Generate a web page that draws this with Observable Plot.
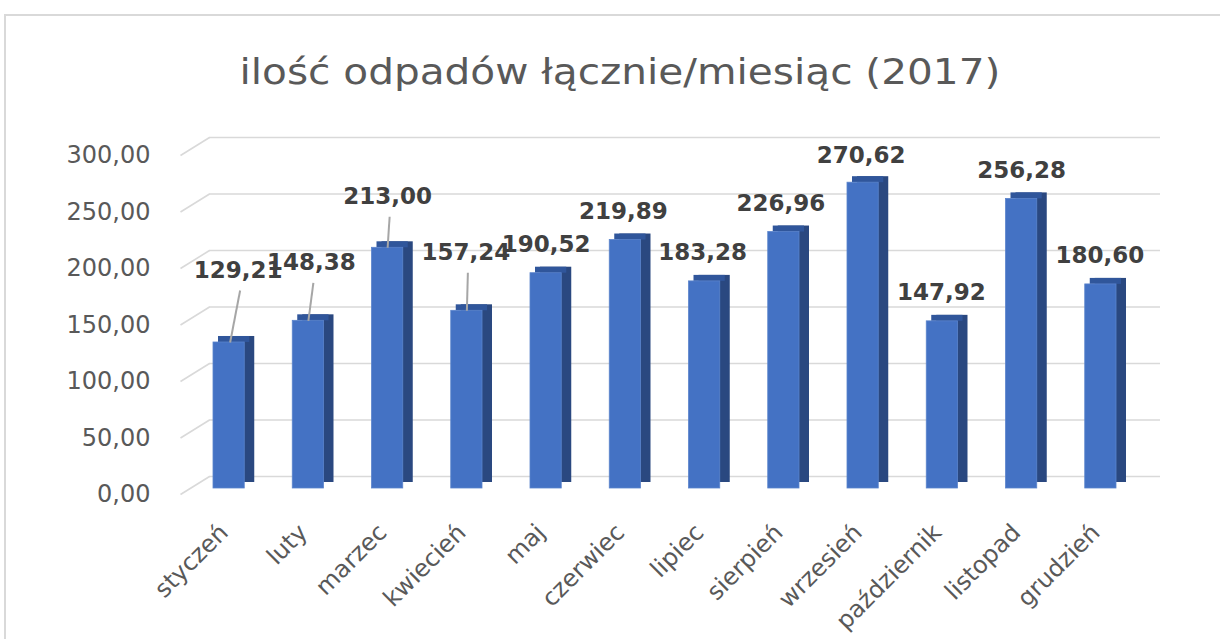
<!DOCTYPE html>
<html>
<head>
<meta charset="utf-8">
<script src="https://cdn.jsdelivr.net/npm/d3@7"></script>
<script src="https://cdn.jsdelivr.net/npm/@observablehq/plot@0.6"></script>
<style>
  html, body { margin: 0; padding: 0; background: #fff; }
  #wrap { position: relative; width: 1220px; height: 639px; overflow: hidden; }
  #frame { position: absolute; left: 4px; top: 14px; width: 1300px; height: 700px;
           border-top: 2px solid #d9d9d9; border-left: 2px solid #d9d9d9; }
  #title { position: absolute; left: 0; top: 50px; width: 1240px; text-align: center;
           font-family: "DejaVu Sans", sans-serif; font-size: 35px; line-height: 44px; color: #595959; }
  #title span { display: inline-block; transform: scaleX(1.16); transform-origin: center; }
  #chart { position: absolute; left: 0; top: 0; }
  svg { display: block; }
</style>
</head>
<body>
<div id="wrap">
  <div id="frame"></div>
  <div id="chart"></div>
  <div id="title"><span></span></div>
</div>
<script>
// ---- data ----
const titleText = "ilość odpadów łącznie/miesiąc (2017)";
const months = ["styczeń","luty","marzec","kwiecień","maj","czerwiec","lipiec","sierpień","wrzesień","październik","listopad","grudzień"];
const values = [129.21,148.38,213.00,157.24,190.52,219.89,183.28,226.96,270.62,147.92,256.28,180.60];
const yTicks = [0,50,100,150,200,250,300];

// ---- layout (manually placed data labels, pixels) ----
const labelDx   = [9, 3, 0, -1, 0, -2, -2, -3, -2, -1, 0, -1];
const labelLift = [72, 58, 51, 58, 29, 28, 29, 28.5, 27, 29, 28, 29];
const hasLeader = [true, true, true, true, false, false, false, false, false, false, false, false];

const W = 1220, H = 639, mL = 189, mR = 80, mT = 149, mB = 151;
const ux = 12 / (W - mL - mR);   // data units per pixel (x)
const uy = 300 / (H - mT - mB);  // data units per pixel (y)

const fmt = v => v.toFixed(2).replace(".", ",");
const data = months.map((m, i) => ({i, month: m, value: values[i]}));
const leaders = data.filter(d => hasLeader[d.i]);

document.querySelector("#title span").textContent = titleText;

const barOpts = {x1: d => d.i - 0.5, x2: d => d.i + 0.5, insetLeft: 24, insetRight: 24};

const chart = Plot.plot({
  width: W, height: H,
  marginLeft: mL, marginRight: mR, marginTop: mT, marginBottom: mB,
  style: {fontFamily: "DejaVu Sans, sans-serif", fontSize: "24px", color: "#595959", background: "transparent"},
  x: {type: "linear", domain: [-0.5, 11.5]},
  y: {domain: [0, 300]},
  marks: [
    // back-wall gridlines
    Plot.ruleY(yTicks, {stroke: "#d9d9d9", strokeWidth: 1.6, dx: 20, dy: -12}),
    // side-wall diagonals
    Plot.link(yTicks, {
      x1: () => -0.5 - 9 * ux, x2: () => -0.5 + 20 * ux,
      y1: t => t - 6 * uy, y2: t => t + 12 * uy,
      stroke: "#d9d9d9", strokeWidth: 1.6
    }),
    // bar side (extrusion)
    Plot.rect(data, {...barOpts, y1: () => 0, y2: d => d.value, dx: 10, dy: -6, fill: "#2a4880"}),
    // bar top face
    Plot.rect(data, {...barOpts, y1: d => d.value, y2: d => d.value, insetTop: -6, dx: 5, fill: "#30569b"}),
    // bar front face
    Plot.rect(data, {...barOpts, y1: () => 0, y2: d => d.value, fill: "#4472c4", stroke: "#5b84cc", strokeWidth: 0.8}),
    // leader lines
    Plot.link(leaders, {
      x1: d => d.i + (d.i === 0 ? 1 : 0) * ux, y1: d => d.value,
      x2: d => d.i + (labelDx[d.i] + 2) * ux, y2: d => d.value + (labelLift[d.i] - 20) * uy,
      stroke: "#a6a6a6", strokeWidth: 2
    }),
    // data labels
    Plot.text(data, {
      x: d => d.i + labelDx[d.i] * ux, y: d => d.value + labelLift[d.i] * uy,
      text: d => fmt(d.value), fontWeight: "bold", fontSize: 23, fill: "#404040"
    }),
    Plot.axisY({ticks: yTicks, tickFormat: fmt, tickSize: 0, tickPadding: 39, dy: 6, fontSize: 24, fill: "#595959", label: null}),
    Plot.axisX({ticks: d3.range(12), tickFormat: i => months[i], tickRotate: -45, tickSize: 0, tickPadding: 40, dx: -5, fontSize: 24, fill: "#595959", label: null})
  ]
});
document.getElementById("chart").appendChild(chart);
</script>
</body>
</html>
